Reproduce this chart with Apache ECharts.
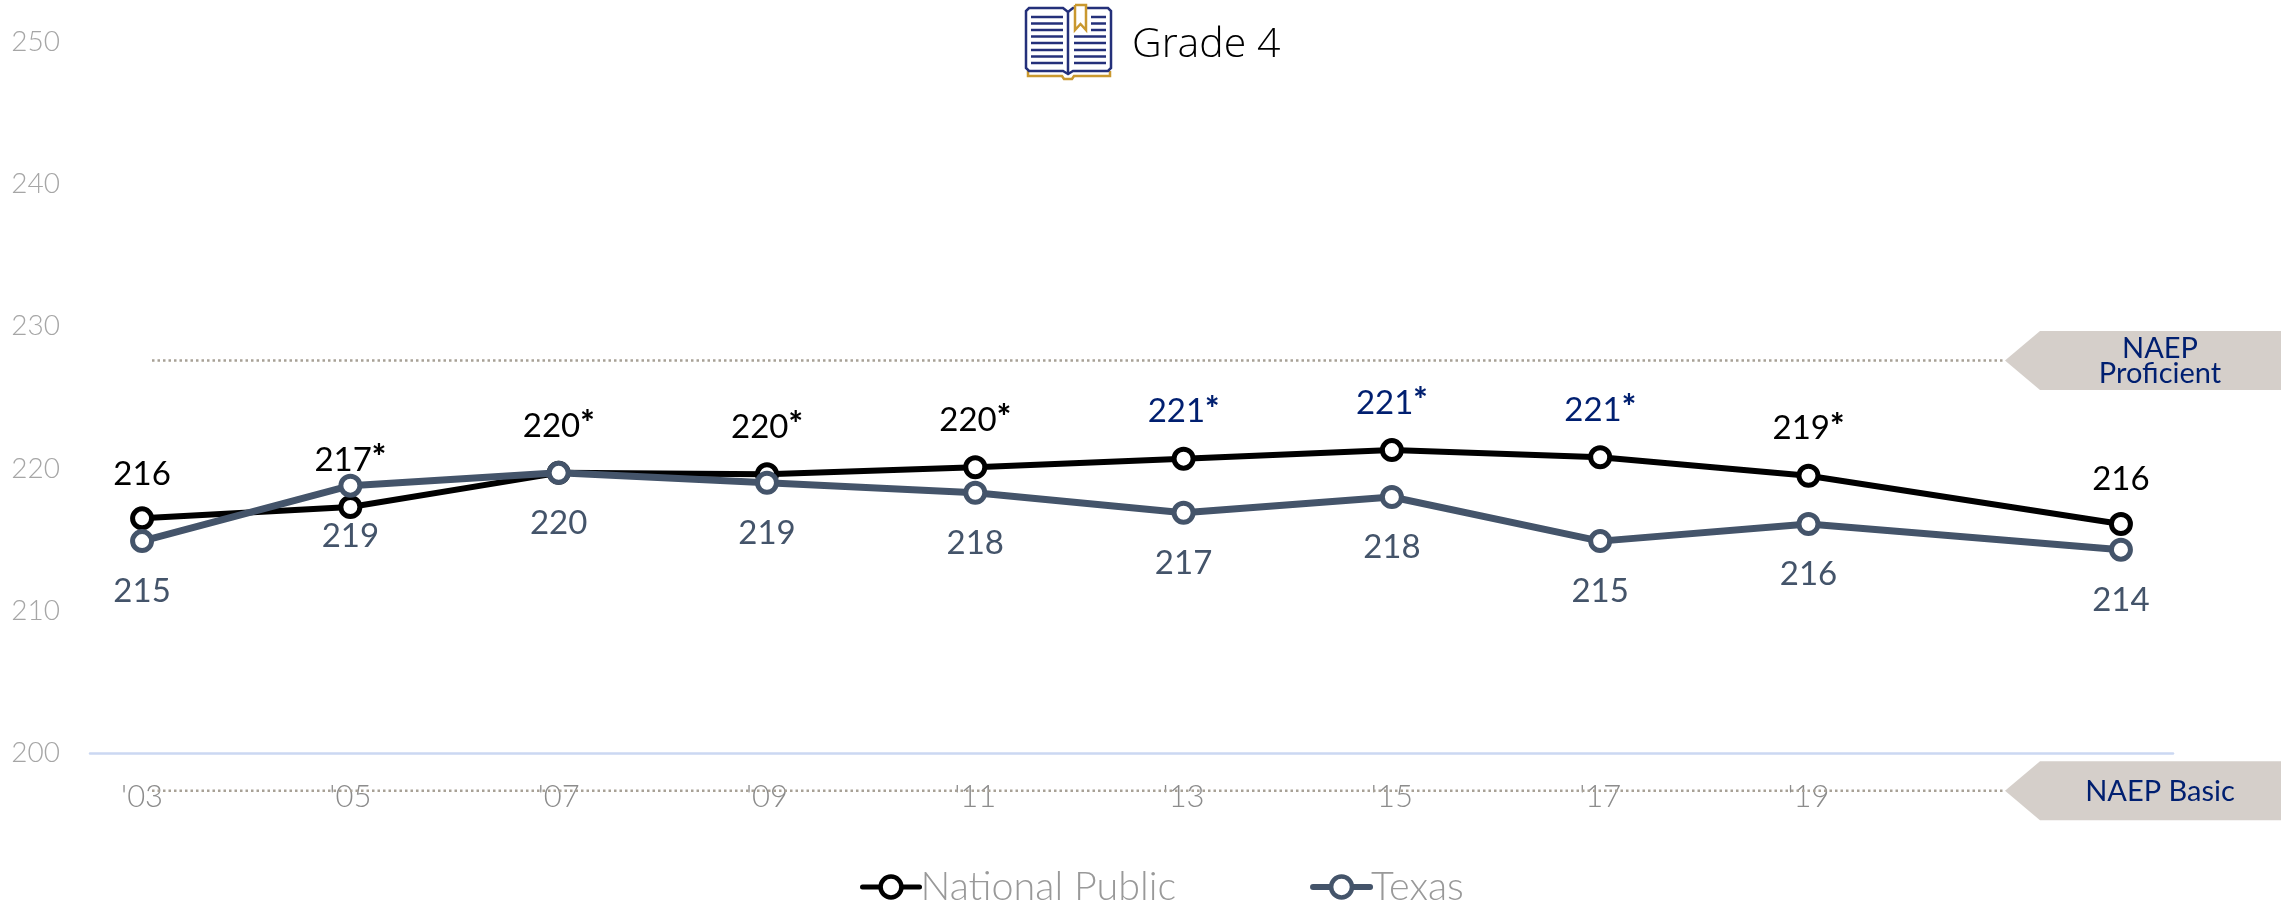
<!DOCTYPE html>
<html><head><meta charset="utf-8">
<style>html,body{margin:0;padding:0;background:#fff}#c{width:2288px;height:900px}</style>
<script src="https://cdn.jsdelivr.net/npm/echarts@6/dist/echarts.min.js"></script>
</head><body><div id="c"></div>
<script>
const yearLabels = ["'03","","'05","","'07","","'09","","'11","","'13","","'15","","'17","","'19","","",""];
const nationalValues = [216.5,null,217.3,null,219.7,null,219.6,null,220.1,null,220.7,null,221.3,null,220.8,null,219.5,null,null,216.1];
const texasValues    = [214.9,null,218.8,null,219.7,null,219.0,null,218.3,null,216.9,null,218.0,null,214.9,null,216.1,null,null,214.3];
const nationalLabels = ["216","","217*","","220*","","220*","","220*","","221*","","221*","","221*","","219*","","","216"];
const texasLabels    = ["215","","219","","220","","219","","218","","217","","218","","215","","216","","","214"];
const nationalLabelColors = ["#000","","#000","","#000","","#000","","#000","","#001F70","","#001F70","","#001F70","","#000","","","#000"];
const yTicks = {min:200,max:250,interval:10};
const proficientCut = 227.6, basicCut = 197.35;

const FONT = 'Lato,sans-serif';
const NAVY='#24307A', GOLD='#C9982F', TAG='#D5CFCA', TAGTEXT='#001F70', DOT='#A8A196';

function labelRich(color){
  return {n:{color,fontFamily:FONT,fontSize:33},s:{color,fontFamily:FONT,fontSize:34,fontWeight:900,verticalAlign:'top',padding:[0,0,4,0]}};
}
function labelled(values,labels,colorOf,position,distance){
  return values.map((v,i)=>({value:v,label:{show:v!=null,position,distance,
    formatter:()=>{const t=labels[i];return t.endsWith('*')?`{n|${t.slice(0,-1)}}{s|*}`:`{n|${t}}`;},
    rich:labelRich(colorOf(i))}}));
}

const chart = echarts.init(document.getElementById('c'),null,{renderer:'canvas'});
chart.setOption({
  animation:false,
  backgroundColor:'#fff',
  title:{text:'Grade 4',left:1127,top:20,textStyle:{fontFamily:'"Open Sans",sans-serif',fontWeight:300,fontSize:41,color:'#000'}},
  grid:{left:90,right:115,top:42,bottom:147,containLabel:false},
  legend:{left:855,top:862,itemWidth:57,itemHeight:26,itemGap:134,selectedMode:false,
    textStyle:{fontFamily:FONT,fontWeight:300,fontSize:39.5,color:'#999999',padding:[0,0,0,-4]},
    data:[
      {name:'National Public',lineStyle:{color:'#000',width:5},itemStyle:{color:'#fff',borderColor:'#000',borderWidth:4.5}},
      {name:'Texas',lineStyle:{color:'#44546A',width:6},itemStyle:{color:'#fff',borderColor:'#44546A',borderWidth:4.5}}
    ]},
  xAxis:{type:'category',data:yearLabels,boundaryGap:true,
    axisLine:{lineStyle:{color:'#CBD8F2',width:2.5}},axisTick:{show:false},
    axisLabel:{interval:0,margin:28,color:'#8C8C8C',fontFamily:FONT,fontWeight:300,fontSize:31,hideOverlap:false}},
  yAxis:{type:'value',min:yTicks.min,max:yTicks.max,interval:yTicks.interval,
    axisLine:{show:false},axisTick:{show:false},splitLine:{show:false},
    axisLabel:{margin:30,color:'#A6A6A6',fontFamily:FONT,fontWeight:300,fontSize:28}},
  series:[
    {name:'National Public',type:'line',connectNulls:true,symbol:'circle',symbolSize:19,showSymbol:true,z:3,
     lineStyle:{color:'#000',width:6,cap:'round'},itemStyle:{color:'#fff',borderColor:'#000',borderWidth:5},
     data:labelled(nationalValues,nationalLabels,i=>nationalLabelColors[i],'top',16)},
    {name:'Texas',type:'line',connectNulls:true,symbol:'circle',symbolSize:19,showSymbol:true,z:4,
     lineStyle:{color:'#44546A',width:7,cap:'round'},itemStyle:{color:'#fff',borderColor:'#44546A',borderWidth:5},
     data:labelled(texasValues,texasLabels,()=>'#44546A','bottom',22)}
  ]
});

function tag(y,lines){
  const tx=2005,bx=2040,rx=2281,h=29.5;
  const out=[{type:'line',silent:true,z:1,shape:{x1:152,y1:y,x2:tx,y2:y},style:{stroke:DOT,lineWidth:2.5,lineDash:[2.5,3]}},
    {type:'polygon',silent:true,z:1,shape:{points:[[tx,y],[bx,y-h],[rx,y-h],[rx,y+h],[bx,y+h]]},style:{fill:TAG}}];
  const cx=2160;
  lines.forEach((t,i)=>out.push({type:'text',silent:true,z:2,style:{text:t,x:cx,y:y+1+(i-(lines.length-1)/2)*25,align:'center',verticalAlign:'middle',fontFamily:FONT,fontSize:29,fill:TAGTEXT}}));
  return out;
}
function bookIcon(){
  const els=[];
  const L=(x1,y1,x2,y2,stroke,w)=>els.push({type:'line',silent:true,shape:{x1,y1,x2,y2},style:{stroke,lineWidth:w}});
  els.push({type:'polyline',silent:true,shape:{points:[[1028,71],[1028,76],[1062,76],[1064,79],[1072,79],[1074,76],[1110,76],[1110,71]]},style:{stroke:GOLD,lineWidth:2.5,fill:'none'}});
  els.push({type:'polygon',silent:true,shape:{points:[[1068,74],[1063,71],[1029,71],[1026,68],[1026,11],[1029,8],[1063,8],[1068,12],[1073,8],[1108,8],[1111,11],[1111,68],[1108,71],[1073,71]]},style:{stroke:NAVY,lineWidth:2.5,fill:'#fff'}});
  L(1068,12,1068,73,NAVY,2.5);
  [17,23.5,30,36.5,43,50,56.5,63].forEach((y,i)=>{
    L(1031,y,1063,y,NAVY,2.5);
    L(i<3?1091:1074,y,1106,y,NAVY,2.5);
  });
  els.push({type:'polyline',silent:true,shape:{points:[[1075,5],[1075,30],[1080.5,24],[1086,30],[1086,5],[1075,5]]},style:{stroke:GOLD,lineWidth:2.5,fill:'#fff'}});
  return els;
}
const yProf=chart.convertToPixel({yAxisIndex:0},proficientCut), yBasic=chart.convertToPixel({yAxisIndex:0},basicCut);
chart.setOption({graphic:{elements:[...tag(yProf,['NAEP','Proficient']),...tag(yBasic,['NAEP Basic']),...bookIcon()]}});
</script></body></html>
